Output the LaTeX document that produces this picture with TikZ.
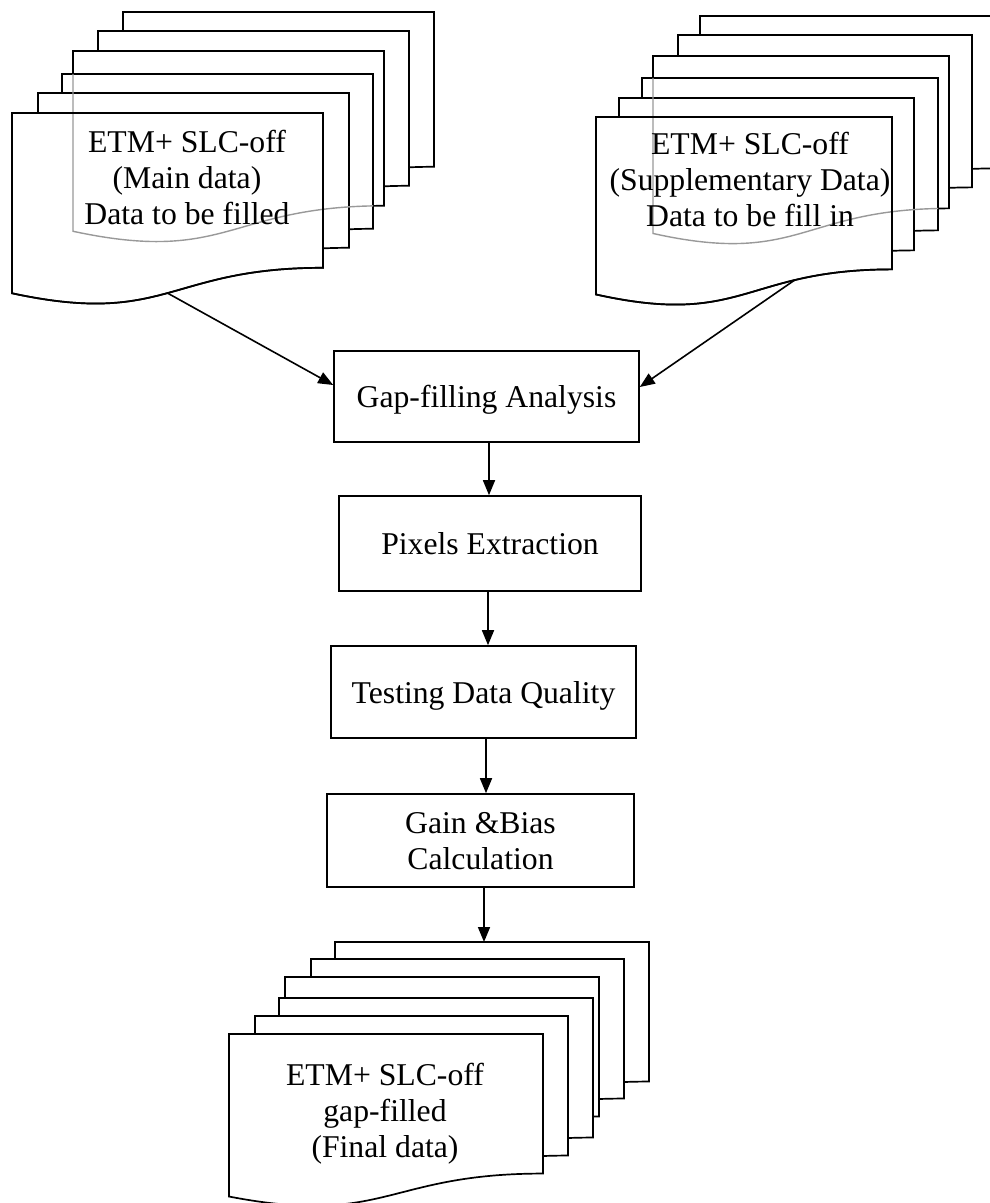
\documentclass[tikz,border=0pt]{standalone}
\usepackage{fontspec}
\setmainfont{Liberation Serif}
\usetikzlibrary{arrows.meta}
\tikzset{
  sheetline/.style={draw=black, fill=white, line width=1.7pt, line join=miter},
  sheetedge/.style={draw=black, line width=1.7pt, line join=miter},
  hiddenline/.style={draw=black!40, line width=1.4pt},
  procbox/.style={draw, line width=1.6pt, inner sep=0pt, text depth=0pt,
    font=\fontsize{31.7}{36}\selectfont, align=center},
  doctext/.style={font=\fontsize{31.7}{36}\selectfont, align=center, inner sep=0pt},
  flow/.style={line width=1.6pt, -{Triangle[length=15pt,width=12pt]}},
}
% #1 x, #2 y (top-left), #3 width, #4 height, #5 style, #6 extra after curve
\newcommand\docsheet[6]{\path[#5] (#1,#2) -- ({#1+#3},#2) -- ({#1+#3},{#2+0.802*#4})
  .. controls ({#1+0.5*#3},{#2+0.802*#4}) and ({#1+0.5*#3},{#2+1.1075*#4}) .. (#1,{#2+0.934*#4}) #6 -- cycle;}
\begin{document}
\begin{tikzpicture}[x=1pt,y=-1pt]
\useasboundingbox (0,0) rectangle (990,1203);

% ---------- left stack ----------
\docsheet{123}{12}{311}{193}{sheetline}{}
\docsheet{98}{31}{311}{193}{sheetline}{}
\docsheet{73}{51}{311}{193}{sheetline}{}
\docsheet{62}{74}{311}{193}{sheetline}{}
\docsheet{38}{93}{311}{193}{sheetline}{}
\docsheet{12}{113}{311}{193}{sheetline}{coordinate[pos=0.5] (lsrc)}
\begin{scope}
  \docsheet{62}{74}{311}{193}{clip}{}
  \docsheet{73}{51}{311}{193}{hiddenline}{}
\end{scope}
\docsheet{12}{113}{311}{193}{sheetedge}{}

% ---------- right stack ----------
\docsheet{700}{16}{296}{190}{sheetline}{}
\docsheet{678}{35}{294}{190}{sheetline}{}
\docsheet{653}{56}{296}{190}{sheetline}{}
\docsheet{642}{78}{296}{190}{sheetline}{}
\docsheet{619}{98}{295}{190}{sheetline}{}
\docsheet{596}{117}{296}{190}{sheetline}{coordinate[pos=0.285] (rsrc)}
\begin{scope}
  \docsheet{642}{78}{296}{190}{clip}{}
  \docsheet{653}{56}{296}{190}{hiddenline}{}
\end{scope}
\docsheet{596}{117}{296}{190}{sheetedge}{}

% ---------- bottom stack ----------
\docsheet{335}{942}{314}{174}{sheetline}{}
\docsheet{311}{959}{313}{174}{sheetline}{}
\docsheet{285}{977}{314}{174}{sheetline}{}
\docsheet{279}{998}{314}{174}{sheetline}{}
\docsheet{255}{1016}{313}{174}{sheetline}{}
\docsheet{229}{1034}{314}{174}{sheetline}{}
\coordinate (btarget) at (484,942);

% ---------- texts of documents ----------
\node[doctext] (ltext) at (187,177) {ETM+ SLC-off\\(Main data)\\Data to be filled};
\node[doctext] (rtext) at (750,179.6) {ETM+ SLC-off\\(Supplementary Data)\\Data to be fill in};
\node[doctext] (btext) at (385,1114) {ETM+ SLC-off\\gap-filled\\(Final data)};

% ---------- process boxes ----------
\node[procbox, minimum width=305pt, minimum height=91pt] (gap) at (486.5,396.5) {Gap-filling Analysis};
\node[procbox, minimum width=302pt, minimum height=95pt] (pixels) at (490,543.5) {Pixels Extraction};
\node[procbox, minimum width=305pt, minimum height=92pt] (testing) at (483.5,692) {Testing Data Quality};
\node[procbox, minimum width=307pt, minimum height=93pt] (gain) at (480.5,840.5) {Gain \&Bias\\Calculation};

% ---------- connectors ----------
\draw[flow] (lsrc) -- ([yshift=11.5pt]gap.west);
\draw[flow] (rsrc) -- ([yshift=9.5pt]gap.east);
\draw[flow] ([xshift=2.5pt]gap.south) -- ([xshift=2.5pt]gap.south |- pixels.north);
\draw[flow] ([xshift=-2pt]pixels.south) -- ([xshift=-2pt]pixels.south |- testing.north);
\draw[flow] ([xshift=2.5pt]testing.south) -- ([xshift=2.5pt]testing.south |- gain.north);
\draw[flow] ([xshift=3.5pt]gain.south) -- (btarget);
\end{tikzpicture}
\end{document}
